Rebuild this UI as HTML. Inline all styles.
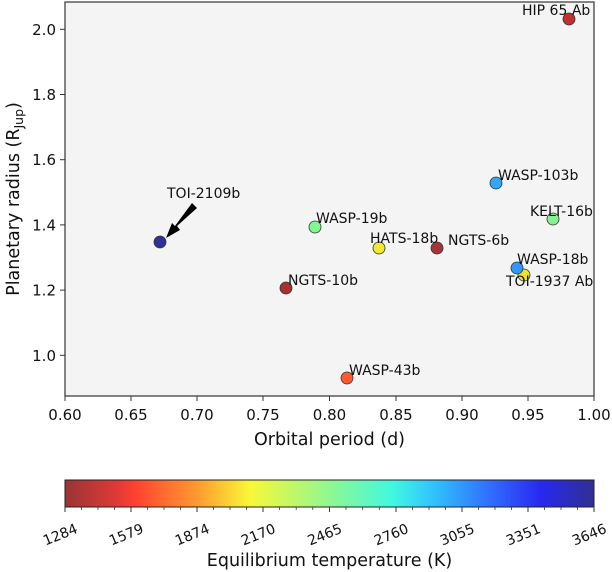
<!DOCTYPE html>
<html><head><meta charset="utf-8"><style>
body{margin:0;background:#fff}
svg{display:block;font-family:"DejaVu Sans","Liberation Sans",sans-serif}
</style></head><body>
<svg width="612" height="572" viewBox="0 0 612 572" xmlns="http://www.w3.org/2000/svg">
<defs>
<linearGradient id="cb" x1="0" x2="1" y1="0" y2="0">
<stop offset="0" stop-color="#9a3434"/>
<stop offset="0.1" stop-color="#e03a36"/>
<stop offset="0.13" stop-color="#ff4030"/>
<stop offset="0.25" stop-color="#ff9a30"/>
<stop offset="0.35" stop-color="#f8f838"/>
<stop offset="0.5" stop-color="#90f890"/>
<stop offset="0.62" stop-color="#40f8e0"/>
<stop offset="0.7" stop-color="#30c0ff"/>
<stop offset="0.8" stop-color="#3070ff"/>
<stop offset="0.9" stop-color="#2828f0"/>
<stop offset="1" stop-color="#303090"/>
</linearGradient>
</defs>
<rect x="65" y="2" width="529" height="394" fill="#f4f4f4" stroke="#333" stroke-width="1.2"/>
<g stroke="#333" stroke-width="1">
<line x1="65" y1="396" x2="65" y2="401"/><line x1="131" y1="396" x2="131" y2="401"/><line x1="197" y1="396" x2="197" y2="401"/><line x1="263" y1="396" x2="263" y2="401"/><line x1="329.5" y1="396" x2="329.5" y2="401"/><line x1="396" y1="396" x2="396" y2="401"/><line x1="462" y1="396" x2="462" y2="401"/><line x1="528" y1="396" x2="528" y2="401"/><line x1="594" y1="396" x2="594" y2="401"/>
<line x1="60" y1="29.3" x2="65" y2="29.3"/><line x1="60" y1="94.5" x2="65" y2="94.5"/><line x1="60" y1="159.7" x2="65" y2="159.7"/><line x1="60" y1="224.9" x2="65" y2="224.9"/><line x1="60" y1="290.1" x2="65" y2="290.1"/><line x1="60" y1="355.3" x2="65" y2="355.3"/>
</g>
<g font-size="15" fill="#111" text-anchor="middle">
<text x="65" y="420">0.60</text><text x="131" y="420">0.65</text><text x="197" y="420">0.70</text><text x="263" y="420">0.75</text><text x="329.5" y="420">0.80</text><text x="396" y="420">0.85</text><text x="462" y="420">0.90</text><text x="528" y="420">0.95</text><text x="594" y="420">1.00</text>
</g>
<g font-size="15" fill="#111" text-anchor="end">
<text x="56" y="34.8">2.0</text><text x="56" y="100">1.8</text><text x="56" y="165.2">1.6</text><text x="56" y="230.4">1.4</text><text x="56" y="295.6">1.2</text><text x="56" y="360.8">1.0</text>
</g>
<text x="329.5" y="445" font-size="17.5" text-anchor="middle" fill="#111">Orbital period (d)</text>
<text transform="translate(19,199) rotate(-90)" font-size="17.5" text-anchor="middle" fill="#111">Planetary radius (R<tspan font-size="12.5" dy="4">Jup</tspan><tspan dy="-4">)</tspan></text>
<g stroke="#333" stroke-width="0.8">
<circle cx="160" cy="242" r="6" fill="#303098"/>
<circle cx="315" cy="227" r="6" fill="#80f890"/>
<circle cx="286" cy="288" r="6" fill="#a83030"/>
<circle cx="347" cy="378" r="6" fill="#ff5a30"/>
<circle cx="379" cy="248" r="6" fill="#f2e830"/>
<circle cx="437" cy="248" r="6" fill="#a83535"/>
<circle cx="496" cy="183" r="6" fill="#30a8f8"/>
<circle cx="553" cy="219" r="6" fill="#88f090"/>
<circle cx="524" cy="275" r="6" fill="#f0e030"/>
<circle cx="517" cy="268" r="6" fill="#3098f8"/>
<circle cx="569" cy="19" r="6" fill="#c03030"/>
</g>
<polygon points="192,203 197,208 177,226 180,230 166,238 172,223 175,226" fill="#000"/>
<g font-size="14" fill="#111">
<text x="167" y="198">TOI-2109b</text>
<text x="316" y="223">WASP-19b</text>
<text x="288" y="285">NGTS-10b</text>
<text x="349" y="375">WASP-43b</text>
<text x="370" y="243">HATS-18b</text>
<text x="448" y="245">NGTS-6b</text>
<text x="498" y="180">WASP-103b</text>
<text x="530" y="216">KELT-16b</text>
<text x="517" y="264">WASP-18b</text>
<text x="506" y="286">TOI-1937 Ab</text>
<text x="522" y="15">HIP 65 Ab</text>
</g>
<rect x="65" y="480" width="529" height="27" fill="url(#cb)" stroke="#222" stroke-width="1"/>
<g stroke="#333" stroke-width="1">
<line x1="65" y1="507" x2="65" y2="512"/><line x1="131" y1="507" x2="131" y2="512"/><line x1="197" y1="507" x2="197" y2="512"/><line x1="263" y1="507" x2="263" y2="512"/><line x1="329.5" y1="507" x2="329.5" y2="512"/><line x1="396" y1="507" x2="396" y2="512"/><line x1="462" y1="507" x2="462" y2="512"/><line x1="528" y1="507" x2="528" y2="512"/><line x1="594" y1="507" x2="594" y2="512"/>
</g>
<g stroke="#333" stroke-width="0.8">
<line x1="81.5" y1="507" x2="81.5" y2="510"/><line x1="98" y1="507" x2="98" y2="510"/><line x1="114.5" y1="507" x2="114.5" y2="510"/>
<line x1="147.5" y1="507" x2="147.5" y2="510"/><line x1="164" y1="507" x2="164" y2="510"/><line x1="180.5" y1="507" x2="180.5" y2="510"/>
<line x1="213.5" y1="507" x2="213.5" y2="510"/><line x1="230" y1="507" x2="230" y2="510"/><line x1="246.5" y1="507" x2="246.5" y2="510"/>
<line x1="279.6" y1="507" x2="279.6" y2="510"/><line x1="296.2" y1="507" x2="296.2" y2="510"/><line x1="312.8" y1="507" x2="312.8" y2="510"/>
<line x1="346" y1="507" x2="346" y2="510"/><line x1="362.7" y1="507" x2="362.7" y2="510"/><line x1="379.3" y1="507" x2="379.3" y2="510"/>
<line x1="412.5" y1="507" x2="412.5" y2="510"/><line x1="429" y1="507" x2="429" y2="510"/><line x1="445.5" y1="507" x2="445.5" y2="510"/>
<line x1="478.5" y1="507" x2="478.5" y2="510"/><line x1="495" y1="507" x2="495" y2="510"/><line x1="511.5" y1="507" x2="511.5" y2="510"/>
<line x1="544.5" y1="507" x2="544.5" y2="510"/><line x1="561" y1="507" x2="561" y2="510"/><line x1="577.5" y1="507" x2="577.5" y2="510"/>
</g>
<g font-size="14" fill="#111" text-anchor="middle">
<text transform="translate(62,539) rotate(-22)">1284</text>
<text transform="translate(128,539) rotate(-22)">1579</text>
<text transform="translate(194,539) rotate(-22)">1874</text>
<text transform="translate(260,539) rotate(-22)">2170</text>
<text transform="translate(326.5,539) rotate(-22)">2465</text>
<text transform="translate(393,539) rotate(-22)">2760</text>
<text transform="translate(459,539) rotate(-22)">3055</text>
<text transform="translate(525,539) rotate(-22)">3351</text>
<text transform="translate(591,539) rotate(-22)">3646</text>
</g>
<text x="329.5" y="566" font-size="17.5" text-anchor="middle" fill="#111">Equilibrium temperature (K)</text>
</svg>
</body></html>
